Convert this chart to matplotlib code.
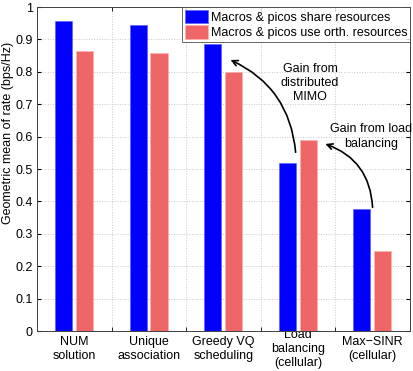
import numpy as np
import matplotlib.pyplot as plt

plt.rcParams['font.family'] = ['Liberation Sans', 'DejaVu Sans']

# datos
categorias = ['NUM\nsolution', 'Unique\nassociation', 'Greedy VQ\nscheduling',
              'Load\nbalancing\n(cellular)', 'Max\u2212SINR\n(cellular)']
compartidos = [0.957, 0.945, 0.886, 0.519, 0.376]
ortogonales = [0.865, 0.857, 0.800, 0.590, 0.248]
series = ['Macros & picos share resources', 'Macros & picos use orth. resources']

fs = 9

fig = plt.figure(figsize=(4.14, 3.71), dpi=100)
ax = fig.add_axes([37/414, 40/371, 373/414, 324/371])

x = np.arange(1, len(categorias) + 1)
ancho = 0.23
ax.bar(x - 0.145, compartidos, ancho, color='#0000ff', edgecolor='#6060ff', linewidth=0.5, label=series[0], zorder=3)
ax.bar(x + 0.135, ortogonales, ancho, color='#ee6666', edgecolor='#ffb0b0', linewidth=0.5, label=series[1], zorder=3)

ax.set_xlim(0.5, 5.5)
ax.set_ylim(0, 1)
ax.set_xticks(x)
ax.set_xticklabels(categorias, fontsize=fs, linespacing=1.2)
for lbl in ax.get_xticklabels():
    lbl.set_va('center')
ax.set_xticks(x[:-1] + 0.5, minor=True)
ax.set_yticks(np.arange(0, 1.01, 0.1))
ax.set_yticklabels(['0'] + ['%.1f' % v for v in np.arange(0.1, 0.95, 0.1)] + ['1'], fontsize=fs)
ax.tick_params(axis='x', which='major', length=0, pad=13)
ax.tick_params(axis='x', which='minor', direction='in', length=3, top=True)
ax.tick_params(axis='y', direction='in', length=3, right=True, pad=3)
ax.grid(True, axis='y', which='major', linestyle=':', color='#c8c8c8', linewidth=0.7, zorder=0)
ax.grid(True, axis='x', which='minor', linestyle=':', color='#c8c8c8', linewidth=0.7, zorder=0)
for s in ax.spines.values():
    s.set_color('#404040')
    s.set_linewidth(0.7)

ax.set_ylabel('Geometric mean of rate (bps/Hz)', fontsize=fs)
ax.yaxis.set_label_coords(-0.062, 0.61)

leg = ax.legend(loc='upper right', fontsize=fs, frameon=True, fancybox=False,
                borderaxespad=0, handlelength=1.9, handleheight=1.3,
                handletextpad=0.2, borderpad=0.2, labelspacing=0.12)
leg.get_frame().set_edgecolor('#404040')
leg.get_frame().set_linewidth(0.7)

# flechas de ganancia
ax.annotate('', xy=(3.06, 0.84), xytext=(3.97, 0.543),
            arrowprops=dict(arrowstyle='->', color='k', lw=1.2,
                            connectionstyle='arc3,rad=0.3'))
ax.text(4.16, 0.765, 'Gain from\ndistributed\nMIMO', ha='center', va='center', fontsize=fs, linespacing=1.25)
ax.annotate('', xy=(4.33, 0.58), xytext=(5.0, 0.373),
            arrowprops=dict(arrowstyle='->', color='k', lw=1.2,
                            connectionstyle='arc3,rad=0.35'))
ax.text(4.98, 0.60, 'Gain from load\nbalancing', ha='center', va='center', fontsize=fs, linespacing=1.25)

fig.savefig('out.png', dpi=100)
